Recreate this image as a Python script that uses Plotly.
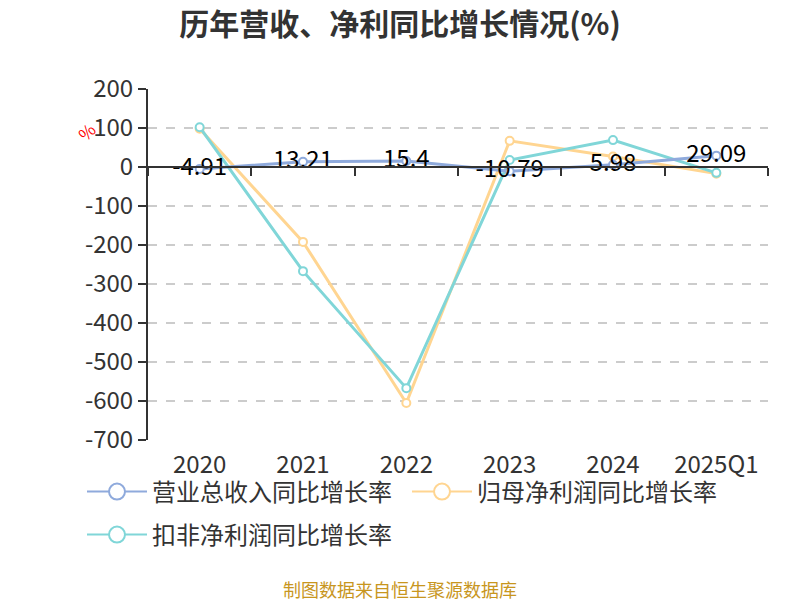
import plotly.graph_objects as go

categories = ["2020", "2021", "2022", "2023", "2024", "2025Q1"]
revenue_growth = [-4.91, 13.21, 15.4, -10.79, 5.98, 29.09]
net_profit_growth = [98, -192, -605, 67, 27, -17]
deducted_profit_growth = [102, -267, -567, 18, 69, -15]
revenue_labels = ["-4.91", "13.21", "15.4", "-10.79", "5.98", "29.09"]
y_ticks = [200, 100, 0, -100, -200, -300, -400, -500, -600, -700]
y_tick_text = ["200", "100", "0", "-100", "-200", "-300", "-400", "-500", "-600", "-700"]

names = ["营业总收入同比增长率", "归母净利润同比增长率", "扣非净利润同比增长率"]
colors = ["#8FAADC", "#FFD591", "#80D6D8"]

font_family = "Noto Sans CJK SC, Noto Sans, sans-serif"

# page body adds an 8px offset; target pixel positions are corrected by it
OFF = 8
W, H = 800, 600
L, R, T, B = 148 - OFF, 32 + OFF, 89 - OFF, 160 + OFF
plot_w = W - L - R
plot_h = H - T - B


def px_x(x):
    return (x - OFF - L) / plot_w


def px_y(y):
    return (H - B - (y - OFF)) / plot_h


fig = go.Figure()

series = [net_profit_growth, deducted_profit_growth]
for vals, name, color in zip(series, names[1:], colors[1:]):
    fig.add_trace(go.Scatter(
        x=categories, y=vals, mode="lines+markers", name=name,
        line=dict(color=color, width=3),
        marker=dict(symbol="circle", size=8, color="white", line=dict(color=color, width=2)),
        showlegend=False, hoverinfo="x+y",
    ))

fig.add_trace(go.Scatter(
    x=categories, y=revenue_growth, mode="lines+markers+text", name=names[0],
    line=dict(color=colors[0], width=3),
    marker=dict(symbol="circle", size=8, color="white", line=dict(color=colors[0], width=2)),
    text=revenue_labels, textposition="middle center",
    textfont=dict(size=24, color="#000000", family=font_family),
    showlegend=False, hoverinfo="x+y",
))

legend_ids = ["legend", "legend", "legend2"]
for name, color, lg in zip(names, colors, legend_ids):
    fig.add_trace(go.Scatter(
        x=[None], y=[None], mode="lines+markers", name=name,
        line=dict(color=color, width=2),
        marker=dict(symbol="circle", size=20, color="white", line=dict(color=color, width=2)),
        showlegend=True, hoverinfo="skip", legend=lg,
    ))

fig.add_trace(go.Scatter(
    x=categories, y=[None] * len(categories), xaxis="x2", yaxis="y",
    mode="markers", showlegend=False, hoverinfo="skip",
))

ymin, ymax = -700, 200
zero_pos = (0 - ymin) / (ymax - ymin)
xrange = [-0.5, len(categories) - 0.5]

legend_common = dict(
    orientation="h", xanchor="left", yanchor="middle",
    font=dict(size=24, color="#333333"),
    itemwidth=60, tracegroupgap=0, bgcolor="rgba(0,0,0,0)",
)

fig.update_layout(
    width=W, height=H,
    paper_bgcolor="white", plot_bgcolor="white",
    margin=dict(l=L, r=R, t=T, b=B, autoexpand=False),
    font=dict(family=font_family, color="#333333"),
    title=dict(
        text="<b>历年营收、净利同比增长情况(%)</b>",
        x=(400 - OFF) / W, xanchor="center", y=1 - (24 - OFF) / H, yanchor="middle",
        font=dict(size=30, color="#333333", family=font_family),
    ),
    xaxis=dict(
        type="category", categoryorder="array", categoryarray=categories,
        range=xrange, autorange=False,
        showline=False, showgrid=False, ticks="", zeroline=False,
        tickfont=dict(size=24, color="#333333"),
        ticklabelstandoff=8, automargin=False,
    ),
    xaxis2=dict(
        type="category", categoryorder="array", categoryarray=categories,
        matches="x", overlaying="x", anchor="free", position=zero_pos,
        range=xrange, autorange=False,
        showline=True, linecolor="#333333", linewidth=2,
        ticks="outside", tickson="boundaries", ticklen=8, tickwidth=2, tickcolor="#333333",
        showticklabels=False, showgrid=False, zeroline=False, automargin=False,
    ),
    yaxis=dict(
        range=[ymin, ymax], tickvals=y_ticks, ticktext=y_tick_text,
        showline=True, linecolor="#333333", linewidth=2,
        ticks="outside", ticklen=8, tickwidth=2, tickcolor="#333333",
        showgrid=True, gridcolor="#cccccc", griddash="dash", gridwidth=1.5,
        zeroline=False, automargin=False,
        tickfont=dict(size=24, color="#333333"),
    ),
    legend=dict(x=px_x(82), y=px_y(492), entrywidth=250, **legend_common),
    legend2=dict(x=px_x(82), y=px_y(535), **legend_common),
    annotations=[
        dict(text="%", x=px_x(86), y=px_y(131), xref="paper", yref="paper", showarrow=False,
             xanchor="center", yanchor="middle",
             font=dict(size=17, color="#ff0000"), textangle=-45),
        dict(text="制图数据来自恒生聚源数据库", x=px_x(400), y=px_y(589), xref="paper", yref="paper",
             showarrow=False, xanchor="center", yanchor="middle",
             font=dict(size=18, color="#C8961E")),
    ],
    showlegend=True,
)

fig.write_html("out.html")
